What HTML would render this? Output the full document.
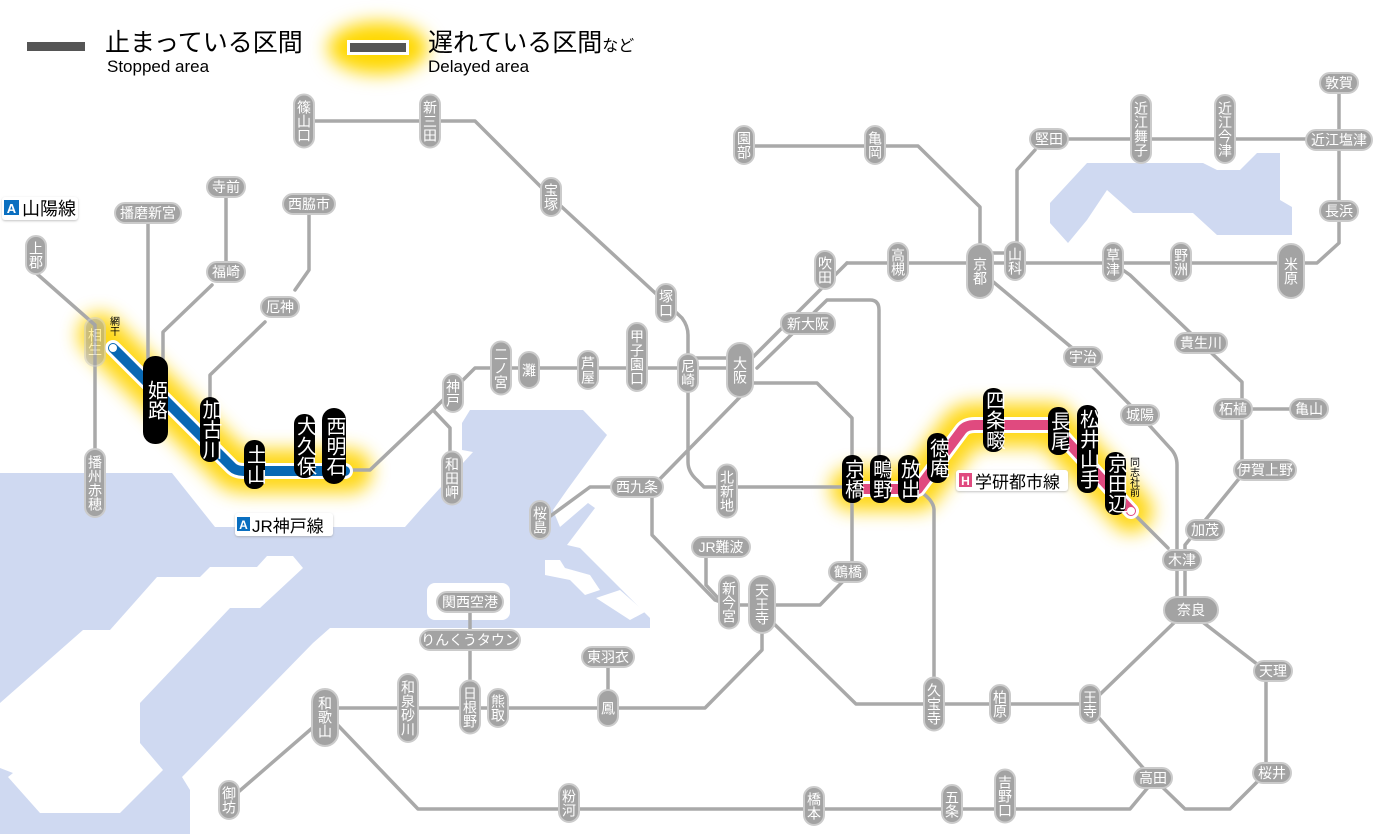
<!DOCTYPE html>
<html><head><meta charset="utf-8">
<style>
html,body{margin:0;padding:0;background:#fff;}
svg{display:block;font-family:"Liberation Sans","Noto Sans CJK JP",sans-serif;}
.l{fill:none;stroke:#a9a9a9;stroke-width:3.5;stroke-linejoin:round;stroke-linecap:round}
.p{fill:#a3a3a3;stroke:#cbcbcb;stroke-width:2}
.b{fill:#000}
.v{writing-mode:vertical-rl;text-anchor:middle;dominant-baseline:central;fill:#fff;font-size:14px}
.h{text-anchor:middle;dominant-baseline:central;fill:#fff;font-size:14px}
.bv{writing-mode:vertical-rl;text-anchor:middle;dominant-baseline:central;fill:#fff;font-size:20px}
</style></head><body>
<svg width="1400" height="834" viewBox="0 0 1400 834" xmlns="http://www.w3.org/2000/svg">
<defs>
<filter id="g" x="-50%" y="-50%" width="200%" height="200%"><feGaussianBlur stdDeviation="9"/></filter>
<filter id="s" x="-10%" y="-10%" width="120%" height="140%"><feDropShadow dx="0" dy="1" stdDeviation="1" flood-color="#999" flood-opacity=".6"/></filter>
</defs>
<!-- sea -->
<g fill="#cfd9f1">
<polygon points="0,473 172,473 215,527 405,527 420,510 473,452 462,450 462,423 470,410 583,410 607,435 567,490 553,510 560,527 588,503 595,508 567,545 580,548 650,618 650,628 330,628 313,643 182,777 190,790 190,834 0,834"/>
<polygon points="1087,163 1203,163 1217,170 1240,170 1257,153 1280,153 1280,200 1292,207 1292,235 1217,235 1193,213 1133,213 1107,190 1087,220 1068,243 1050,223 1050,203"/>
</g>
<g fill="#fff">
<polygon points="0,703 83,630 110,630 157,577 200,577 210,567 257,567 267,556 293,556 303,568 260,608 230,608 140,703 140,743 163,770 120,813 40,813 8,777 13,773 0,768"/>
<rect x="427" y="583" width="83" height="37" rx="8"/>
<polygon points="545,560 560,560 565,568 590,575 600,590 585,595 570,580 545,575"/>
<polygon points="596,598 620,590 645,612 630,620"/>
</g>
<!-- legend -->
<rect x="27" y="42" width="58" height="9" fill="#555"/>
<text x="105" y="51" font-size="25" fill="#000">止まっている区間</text>
<text x="107" y="72" font-size="17" fill="#000">Stopped area</text>
<ellipse cx="378" cy="48" rx="50" ry="26" fill="#ffd800" filter="url(#g)"/>
<rect x="347" y="40" width="62" height="15" fill="#fff"/>
<rect x="350" y="43" width="56" height="9" fill="#555"/>
<text x="428" y="51" font-size="25" fill="#000">遅れている区間<tspan font-size="16">など</tspan></text>
<text x="428" y="72" font-size="17" fill="#000">Delayed area</text>
<!-- glows -->
<g fill="none" stroke="#ffd400" stroke-width="44" stroke-linejoin="round" stroke-linecap="round" filter="url(#g)" opacity=".9">
<path d="M100,335 L232,467 Q236,471 244,471 H350"/>
<path d="M852,489 H918 L962,430 Q966,425 975,425 H1052 L1131,511"/>
</g>
<!-- gray lines -->
<g class="l">
<path d="M304,121 H475 L551,197 L666,303 L682,318 Q688,326 688,335 V462 Q688,472 697,480 L704,487 H852"/>
<path d="M350,470 H370 L433,410 L453,390 L475,368 H740"/>
<path d="M433,410 L450,428 V465"/>
<path d="M688,358 H740"/>
<path d="M36,273 L95,325 V483"/>
<path d="M148,213 V360"/>
<path d="M226,187 V272 M212,285 L163,332 V360"/>
<path d="M309,204 V270 L295,290 M265,322 L210,375 V400"/>
<path d="M744,146 H918 L980,207 V270"/>
<path d="M847,263 H1317 L1339,243 V83"/>
<path d="M1049,139 H1339"/>
<path d="M1035,150 L1017,170 V263"/>
<path d="M980,253 H1015"/>
<path d="M847,263 L740,370"/>
<path d="M757,368 L827,300 H870 Q879,300 879,310 V480"/>
<path d="M750,383 H817 L852,418 V572 L820,605 H729 L715,600 L652,535 V487 L740,397"/>
<path d="M706,555 V585 L718,598"/>
<path d="M612,487 H590 L545,520"/>
<path d="M762,632 V650 L705,708 H325"/>
<path d="M608,657 V690"/>
<path d="M470,602 V700"/>
<path d="M765,615 L856,704 H1090 L1180,617"/>
<path d="M918,490 Q934,500 934,510 V704"/>
<path d="M1200,620 L1266,671 V773 L1230,809 H1185 L1153,778"/>
<path d="M1092,710 L1145,770"/>
<path d="M1150,785 L1130,809 H418 L330,717"/>
<path d="M325,717 L229,800"/>
<path d="M1185,605 V545 L1242,475 V382 L1201,343 L1130,275 L1113,263"/>
<path d="M1242,409 H1309"/>
<path d="M985,275 L1083,357 L1140,415 L1170,448 Q1177,455 1177,465 V610"/>
<path d="M1131,511 L1168,548"/>
</g>
<!-- colored lines -->
<path d="M113,348 L232,467 Q236,471 244,471 H345" fill="none" stroke="#fff" stroke-width="16" stroke-linejoin="round" stroke-linecap="round"/>
<path d="M113,348 L232,467 Q236,471 244,471 H345" fill="none" stroke="#0868b4" stroke-width="10" stroke-linejoin="round" stroke-linecap="round"/>
<circle cx="113" cy="348" r="4" fill="#fff"/>
<path d="M852,489 H918 L962,430 Q966,425 975,425 H1052 L1131,511" fill="none" stroke="#fff" stroke-width="16" stroke-linejoin="round" stroke-linecap="round"/>
<path d="M852,489 H918 L962,430 Q966,425 975,425 H1052 L1131,511" fill="none" stroke="#e04a7f" stroke-width="10" stroke-linejoin="round" stroke-linecap="round"/>
<circle cx="1131" cy="511" r="4" fill="#fff"/>
<!-- gray vertical stations -->
<g>
<rect class="p" x="294" y="94.5" width="20" height="53" rx="10"/><text class="v" x="304" y="121">篠山口</text>
<rect class="p" x="420" y="94.5" width="20" height="53" rx="10"/><text class="v" x="430" y="121">新三田</text>
<rect class="p" x="541" y="178" width="20" height="38" rx="10"/><text class="v" x="551" y="197">宝塚</text>
<rect class="p" x="656" y="284" width="20" height="38" rx="10"/><text class="v" x="666" y="303">塚口</text>
<rect class="p" x="678" y="354" width="20" height="38" rx="10"/><text class="v" x="688" y="373">尼崎</text>
<rect class="p" x="627" y="323" width="20" height="68" rx="10"/><text class="v" x="637" y="357">甲子園口</text>
<rect class="p" x="578" y="351" width="20" height="38" rx="10"/><text class="v" x="588" y="370">芦屋</text>
<rect class="p" x="519" y="352" width="20" height="36" rx="10"/><text class="v" x="529" y="370">灘</text>
<rect class="p" x="491" y="341.5" width="20" height="53" rx="10"/><text class="v" x="501" y="368">二ノ宮</text>
<rect class="p" x="443" y="374" width="20" height="38" rx="10"/><text class="v" x="453" y="393">神戸</text>
<rect class="p" x="442" y="451.5" width="20" height="53" rx="10"/><text class="v" x="452" y="478">和田岬</text>
<rect class="p" x="26" y="236" width="20" height="38" rx="10"/><text class="v" x="36" y="255">上郡</text>
<g opacity=".55"><rect class="p" x="85" y="318" width="20" height="48" rx="10"/><text class="v" x="95" y="342">相生</text></g>
<rect class="p" x="85" y="449" width="20" height="68" rx="10"/><text class="v" x="95" y="483">播州赤穂</text>
<rect class="p" x="734" y="126" width="20" height="38" rx="10"/><text class="v" x="744" y="145">園部</text>
<rect class="p" x="865" y="126" width="20" height="38" rx="10"/><text class="v" x="875" y="145">亀岡</text>
<rect class="p" x="1005" y="242" width="20" height="38" rx="10"/><text class="v" x="1015" y="261">山科</text>
<rect class="p" x="1103" y="243" width="20" height="38" rx="10"/><text class="v" x="1113" y="262">草津</text>
<rect class="p" x="1171" y="243" width="20" height="38" rx="10"/><text class="v" x="1181" y="262">野洲</text>
<rect class="p" x="1131" y="95" width="20" height="68" rx="10"/><text class="v" x="1141" y="129">近江舞子</text>
<rect class="p" x="1215" y="95" width="20" height="68" rx="10"/><text class="v" x="1225" y="129">近江今津</text>
<rect class="p" x="888" y="243" width="20" height="38" rx="10"/><text class="v" x="898" y="262">高槻</text>
<rect class="p" x="815" y="251" width="20" height="38" rx="10"/><text class="v" x="825" y="270">吹田</text>
<rect class="p" x="717" y="464.5" width="20" height="53" rx="10"/><text class="v" x="727" y="491">北新地</text>
<rect class="p" x="530" y="501" width="20" height="38" rx="10"/><text class="v" x="540" y="520">桜島</text>
<rect class="p" x="719" y="575.5" width="20" height="53" rx="10"/><text class="v" x="729" y="602">新今宮</text>
<rect class="p" x="598" y="690" width="20" height="36" rx="10"/><text class="v" x="608" y="708">鳳</text>
<rect class="p" x="488" y="689" width="20" height="38" rx="10"/><text class="v" x="498" y="708">熊取</text>
<rect class="p" x="460" y="680.5" width="20" height="53" rx="10"/><text class="v" x="470" y="707">日根野</text>
<rect class="p" x="398" y="674" width="20" height="68" rx="10"/><text class="v" x="408" y="708">和泉砂川</text>
<rect class="p" x="219" y="781" width="20" height="38" rx="10"/><text class="v" x="229" y="800">御坊</text>
<rect class="p" x="559" y="784" width="20" height="38" rx="10"/><text class="v" x="569" y="803">粉河</text>
<rect class="p" x="804" y="787" width="20" height="38" rx="10"/><text class="v" x="814" y="806">橋本</text>
<rect class="p" x="942" y="785" width="20" height="38" rx="10"/><text class="v" x="952" y="804">五条</text>
<rect class="p" x="995" y="769.5" width="20" height="53" rx="10"/><text class="v" x="1005" y="796">吉野口</text>
<rect class="p" x="990" y="685" width="20" height="38" rx="10"/><text class="v" x="1000" y="704">柏原</text>
<rect class="p" x="924" y="677.5" width="20" height="53" rx="10"/><text class="v" x="934" y="704">久宝寺</text>
<rect class="p" x="1080" y="685" width="20" height="38" rx="10"/><text class="v" x="1090" y="704">王寺</text>
<!-- big -->
<rect class="p" x="967" y="244" width="26" height="54" rx="13"/><text class="v" x="980" y="271" font-size="18">京都</text>
<rect class="p" x="1278" y="244" width="26" height="54" rx="13"/><text class="v" x="1291" y="271" font-size="18">米原</text>
<rect class="p" x="727" y="343" width="26" height="54" rx="13"/><text class="v" x="740" y="370" font-size="18">大阪</text>
<rect class="p" x="749" y="576" width="26" height="57" rx="13"/><text class="v" x="762" y="604" font-size="16">天王寺</text>
<rect class="p" x="312" y="689" width="26" height="57" rx="13"/><text class="v" x="325" y="717" font-size="16">和歌山</text>
</g>
<!-- gray horizontal stations -->
<g>
<rect class="p" x="115" y="203" width="66" height="20" rx="10"/><text class="h" x="148" y="213">播磨新宮</text>
<rect class="p" x="207" y="177" width="38" height="20" rx="10"/><text class="h" x="226" y="187">寺前</text>
<rect class="p" x="207" y="262" width="38" height="20" rx="10"/><text class="h" x="226" y="272">福崎</text>
<rect class="p" x="283" y="194" width="52" height="20" rx="10"/><text class="h" x="309" y="204">西脇市</text>
<rect class="p" x="261" y="297" width="38" height="20" rx="10"/><text class="h" x="280" y="307">厄神</text>
<rect class="p" x="1320" y="201" width="38" height="20" rx="10"/><text class="h" x="1339" y="211">長浜</text>
<rect class="p" x="1306" y="130" width="66" height="20" rx="10"/><text class="h" x="1339" y="140">近江塩津</text>
<rect class="p" x="1320" y="73" width="38" height="20" rx="10"/><text class="h" x="1339" y="83">敦賀</text>
<rect class="p" x="1030" y="129" width="38" height="20" rx="10"/><text class="h" x="1049" y="139">堅田</text>
<rect class="p" x="781" y="313" width="54" height="21" rx="10"/><text class="h" x="808" y="324" font-size="15">新大阪</text>
<rect class="p" x="611" y="477" width="52" height="20" rx="10"/><text class="h" x="637" y="487">西九条</text>
<rect class="p" x="692" y="537" width="58" height="20" rx="10"/><text class="h" x="721" y="547">JR難波</text>
<rect class="p" x="829" y="562" width="38" height="20" rx="10"/><text class="h" x="848" y="572">鶴橋</text>
<rect class="p" x="582" y="647" width="52" height="20" rx="10"/><text class="h" x="608" y="657">東羽衣</text>
<rect class="p" x="420" y="630" width="100" height="20" rx="10"/><text class="h" x="470" y="640" font-size="13">りんくうタウン</text>
<rect class="p" x="437" y="592" width="66" height="20" rx="10"/><text class="h" x="470" y="602">関西空港</text>
<rect class="p" x="1134" y="768" width="38" height="20" rx="10"/><text class="h" x="1153" y="778">高田</text>
<rect class="p" x="1253" y="763" width="38" height="20" rx="10"/><text class="h" x="1272" y="773">桜井</text>
<rect class="p" x="1254" y="661" width="38" height="20" rx="10"/><text class="h" x="1273" y="671">天理</text>
<rect class="p" x="1164" y="597" width="54" height="26" rx="13"/><text class="h" x="1191" y="610" font-size="18">奈良</text>
<rect class="p" x="1163" y="550" width="38" height="20" rx="10"/><text class="h" x="1182" y="560">木津</text>
<rect class="p" x="1186" y="520" width="38" height="20" rx="10"/><text class="h" x="1205" y="530">加茂</text>
<rect class="p" x="1234" y="460" width="62" height="20" rx="10"/><text class="h" x="1265" y="470">伊賀上野</text>
<rect class="p" x="1214" y="399" width="38" height="20" rx="10"/><text class="h" x="1233" y="409">柘植</text>
<rect class="p" x="1290" y="399" width="38" height="20" rx="10"/><text class="h" x="1309" y="409">亀山</text>
<rect class="p" x="1175" y="333" width="52" height="20" rx="10"/><text class="h" x="1201" y="343">貴生川</text>
<rect class="p" x="1064" y="347" width="38" height="20" rx="10"/><text class="h" x="1083" y="357">宇治</text>
<rect class="p" x="1121" y="405" width="38" height="20" rx="10"/><text class="h" x="1140" y="415">城陽</text>
</g>
<!-- black stations -->
<g>
<rect class="b" x="143" y="356" width="25" height="88" rx="12"/><text class="bv" x="155.5" y="400" font-size="25">姫路</text>
<rect class="b" x="200" y="397" width="20" height="65" rx="10"/><text class="bv" x="210" y="429.5">加古川</text>
<rect class="b" x="244" y="440" width="21" height="49" rx="10"/><text class="bv" x="254.5" y="464.5">土山</text>
<rect class="b" x="294" y="414" width="21" height="64" rx="10"/><text class="bv" x="304.5" y="446">大久保</text>
<rect class="b" x="322" y="408" width="24" height="76" rx="12"/><text class="bv" x="334" y="446" font-size="22">西明石</text>
<rect class="b" x="842" y="455" width="21" height="48" rx="10"/><text class="bv" x="852.5" y="479">京橋</text>
<rect class="b" x="870" y="455" width="21" height="48" rx="10"/><text class="bv" x="880.5" y="479">鴫野</text>
<rect class="b" x="898" y="455" width="21" height="48" rx="10"/><text class="bv" x="908.5" y="479">放出</text>
<rect class="b" x="927" y="433" width="21" height="50" rx="10"/><text class="bv" x="937.5" y="458">徳庵</text>
<rect class="b" x="983" y="388" width="21" height="64" rx="10"/><text class="bv" x="993.5" y="420">四条畷</text>
<rect class="b" x="1048" y="407" width="21" height="48" rx="10"/><text class="bv" x="1058.5" y="431">長尾</text>
<rect class="b" x="1077" y="405" width="21" height="88" rx="10"/><text class="bv" x="1087.5" y="449">松井山手</text>
<rect class="b" x="1105" y="452" width="21" height="63" rx="10"/><text class="bv" x="1115.5" y="483.5">京田辺</text>
</g>
<text x="113" y="326" style="writing-mode:vertical-rl" text-anchor="middle" dominant-baseline="central" font-size="10" fill="#000">網干</text>
<text x="1133" y="477" style="writing-mode:vertical-rl" text-anchor="middle" dominant-baseline="central" font-size="10" fill="#000">同志社前</text>
<!-- line labels -->
<g filter="url(#s)">
<rect x="2" y="197" width="76" height="23" rx="3" fill="#fff"/>
<rect x="235" y="513" width="98" height="23" rx="3" fill="#fff"/>
<rect x="956" y="470" width="112" height="21" rx="3" fill="#fff"/>
</g>
<rect x="4" y="200" width="15" height="15" fill="#0a6fc0"/><text x="11.5" y="213" text-anchor="middle" font-size="13" font-weight="bold" fill="#fff">A</text>
<text x="22" y="215" font-size="18" fill="#000">山陽線</text>
<rect x="237" y="517" width="13" height="14" fill="#0a6fc0"/><text x="243.5" y="529" text-anchor="middle" font-size="12" font-weight="bold" fill="#fff">A</text>
<text x="252" y="532" font-size="17" fill="#000">JR神戸線</text>
<rect x="959" y="473" width="13" height="14" fill="#e04a7f"/><text x="965.5" y="485" text-anchor="middle" font-size="12" font-weight="bold" fill="#fff">H</text>
<text x="975" y="488" font-size="17" fill="#000">学研都市線</text>
</svg>
</body></html>
